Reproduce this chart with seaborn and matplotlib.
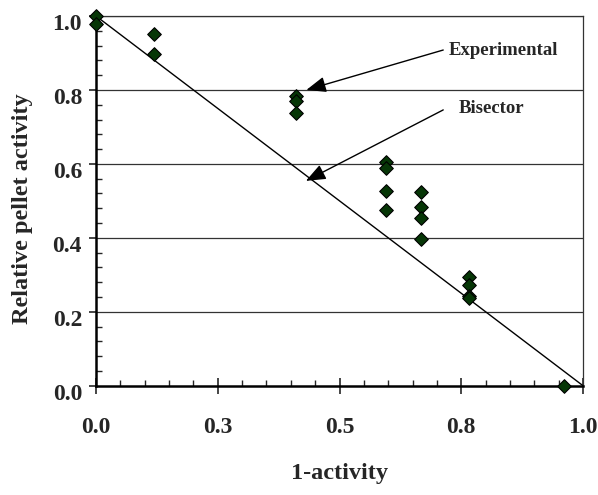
import matplotlib
matplotlib.use("Agg")
import matplotlib.pyplot as plt
import matplotlib.transforms as mtransforms
from matplotlib.ticker import MultipleLocator, FixedLocator
import seaborn as sns
import pandas as pd

# ---- data ----
x_exp = [0.0, 0.0, 0.12, 0.12, 0.41, 0.41, 0.41,
         0.595, 0.595, 0.595, 0.595,
         0.667, 0.667, 0.667, 0.667,
         0.765, 0.765, 0.765, 0.765, 0.962]
y_exp = [1.0, 0.978, 0.95, 0.898, 0.783, 0.771, 0.738,
         0.606, 0.588, 0.527, 0.475,
         0.523, 0.483, 0.453, 0.396,
         0.293, 0.272, 0.243, 0.238, 0.0]
x_bis = [0.0, 1.0]
y_bis = [1.0, 0.0]
x_ticks = [0.0, 0.25, 0.5, 0.75, 1.0]
x_ticklabels = ["0.0", "0.3", "0.5", "0.8", "1.0"]
y_ticks = [0.0, 0.2, 0.4, 0.6, 0.8, 1.0]
y_ticklabels = ["0.0", "0.2", "0.4", "0.6", "0.8", "1.0"]

df = pd.DataFrame({"x": x_exp, "y": y_exp})
dfb = pd.DataFrame({"x": x_bis, "y": y_bis})

sns.set_style("white")
plt.rcParams["font.family"] = ["Liberation Serif", "DejaVu Serif"]
plt.rcParams["font.weight"] = "bold"

fig = plt.figure(figsize=(5.98, 4.95), dpi=100)
ax = fig.add_axes([96/598, 1-385.7/495, (583-96)/598, (385.7-16)/495])

for yv in y_ticks[1:]:
    ax.axhline(yv, color="#333333", lw=0.9, zorder=1)

sns.lineplot(data=dfb, x="x", y="y", ax=ax, color="black", lw=1.0, zorder=2)
sns.scatterplot(data=df, x="x", y="y", ax=ax, marker="D", s=48,
                color="#063606", edgecolor="black", linewidth=0.8,
                zorder=3, clip_on=False)

ax.set_xlim(0, 1)
ax.set_ylim(0, 1)
ax.xaxis.set_major_locator(FixedLocator(x_ticks))
ax.set_xticklabels(x_ticklabels)
ax.xaxis.set_minor_locator(MultipleLocator(0.05))
ax.yaxis.set_major_locator(FixedLocator(y_ticks))
ax.set_yticklabels(y_ticklabels)
ax.yaxis.set_minor_locator(MultipleLocator(0.04))

ax.tick_params(axis="x", which="major", direction="inout", length=11, width=1.2,
               labelsize=17, pad=17, bottom=True)
ax.tick_params(axis="x", which="minor", direction="in", length=4, width=1.0, bottom=True)
ax.tick_params(axis="y", which="major", direction="out", length=5, width=1.2,
               labelsize=17, pad=5, left=True)
ax.tick_params(axis="y", which="minor", direction="in", length=4, width=1.0, left=True)

# shift y tick labels slightly down like the reference
offset = mtransforms.ScaledTranslation(0, -6/100, fig.dpi_scale_trans)
for lab in ax.get_yticklabels():
    lab.set_transform(lab.get_transform() + offset)

for side in ["left", "bottom"]:
    ax.spines[side].set_linewidth(1.8)
    ax.spines[side].set_color("black")
for side in ["top", "right"]:
    ax.spines[side].set_linewidth(0.9)
    ax.spines[side].set_color("#333333")

ax.set_xlabel("1-activity", fontsize=17.5, fontweight="bold", labelpad=18)
ax.set_ylabel("Relative pellet activity", fontsize=17.5, fontweight="bold")
ax.yaxis.set_label_coords(-0.13, 0.478)

arrow = dict(arrowstyle="-|>,head_length=1.0,head_width=0.4", color="black",
             lw=1.0, shrinkA=0, shrinkB=0, mutation_scale=12)
ax.annotate("", xy=(0.432, 0.80), xytext=(0.713, 0.908), arrowprops=arrow)
ax.text(0.725, 0.908, "Experimental", fontsize=13.5, fontweight="bold", va="center", ha="left")
ax.annotate("", xy=(0.431, 0.554), xytext=(0.713, 0.746), arrowprops=arrow)
ax.text(0.745, 0.75, "Bisector", fontsize=13.5, fontweight="bold", va="center", ha="left")

fig.savefig("out.png", dpi=100)
